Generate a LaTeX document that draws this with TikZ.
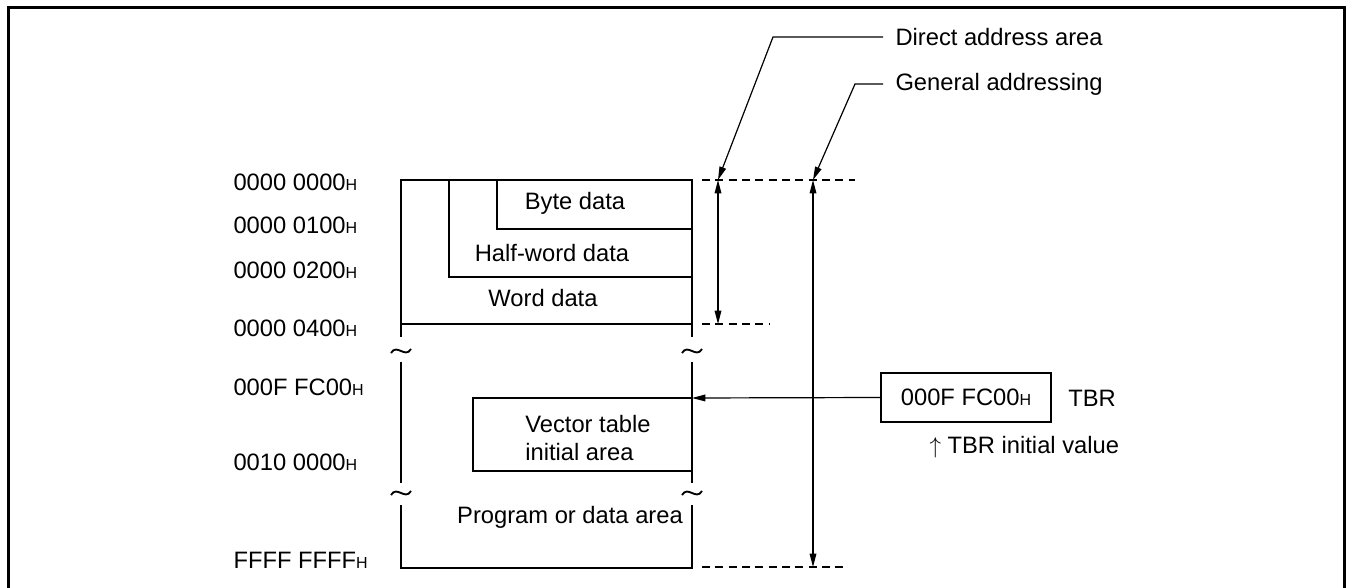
\documentclass[tikz,border=0pt]{standalone}
\usepackage{fontspec}
\setmainfont{Liberation Sans}
\usetikzlibrary{arrows.meta}
\newcommand{\hsuf}{{\fontsize{12}{13}\selectfont H}}
\tikzset{every picture/.style={line width=0.75pt}}
\tikzset{
	memline/.style={line width=2pt},
	thinline/.style={line width=0.9pt},
	guideline/.style={line width=0.9pt, dash pattern=on 6pt off 4pt},
	tip/.style={-{Triangle[length=10pt,width=5pt]}},
	bothtips/.style={{Triangle[length=10pt,width=5pt]}-{Triangle[length=10pt,width=5pt]}},
	txt/.style={font=\fontsize{17.8}{21}\selectfont, inner sep=0pt}}

\begin{document}
\begin{tikzpicture}[x=0.75pt,y=0.75pt,yscale=-1,xscale=1]
	\useasboundingbox (0,0) rectangle (1346,588);

	%Shape: Frame
	\draw [line width=1.6pt] (8.5,588) -- (8.5,7.5) -- (1344.5,7.5) -- (1344.5,588) ;

	%Shape: Memory map
	\draw [memline] (401,337) -- (401,180) -- (692,180) -- (692,337) ;
	\draw [memline] (401,362) -- (401,483) ;
	\draw [memline] (692,362) -- (692,483) ;
	\draw [memline] (401,505) -- (401,568) -- (692,568) -- (692,505) ;
	%Shape: Inner areas
	\draw [thinline] (497,180) -- (497,229) -- (692,229) ;
	\draw [thinline] (449,180) -- (449,277) -- (692,277) ;
	\draw [thinline] (401,324) -- (692,324) ;
	\draw [thinline] (692,398) -- (473,398) -- (473,471) -- (692,471) ;
	%Shape: Break marks
	\foreach \x in {401,692}
		\foreach \y in {351,493}
			\draw [line width=1.4pt] (\x-10,\y+2) .. controls (\x-4,\y-8) and (\x+4,\y+8) .. (\x+10,\y-2) ;

	%Dashed guides
	\draw [guideline] (702,180) -- (855,180) ;
	\draw [guideline] (702,324) -- (770,324) ;
	\draw [guideline] (702,567) -- (845,567) ;

	% Coordinates
	\coordinate (datop) at (718,180) ;
	\coordinate (dabot) at (718,324) ;
	\coordinate (gatop) at (813,180) ;
	\coordinate (gabot) at (813,567) ;
	\coordinate (dabend) at (773,37) ;
	\coordinate (gabend) at (855,84) ;
	\coordinate (tbrtarget) at (692,398) ;

	% Text Node
	\node [txt, anchor=west] (da) at (895,37) {Direct address area};
	% Text Node
	\node [txt, anchor=west] (ga) at (895,84) {General addressing};
	% Text Node
	\node [txt] (byte) at (575,203) {Byte data};
	% Text Node
	\node [txt] (half) at (552,253) {Half-word data};
	% Text Node
	\node [txt] (word) at (543,298) {Word data};
	% Text Node
	\node [txt, align=left] (vect) at (588,438) {Vector table\\initial area};
	% Text Node
	\node [txt] (prog) at (570,517) {Program or data area};
	% Text Node
	\node [txt, anchor=west] (a0) at (233,182) {0000 0000\hsuf};
	% Text Node
	\node [txt, anchor=west] (a1) at (233,225) {0000 0100\hsuf};
	% Text Node
	\node [txt, anchor=west] (a2) at (233,270) {0000 0200\hsuf};
	% Text Node
	\node [txt, anchor=west] (a4) at (233,328) {0000 0400\hsuf};
	% Text Node
	\node [txt, anchor=west] (afc) at (233,387) {000F FC00\hsuf};
	% Text Node
	\node [txt, anchor=west] (a10) at (233,462) {0010 0000\hsuf};
	% Text Node
	\node [txt, anchor=west] (aff) at (233,560) {FFFF FFFF\hsuf};
	% Text Node
	\node [txt, draw, thinline, minimum width=127.5pt, minimum height=36.75pt] (tbrbox) at (966,397.5) {000F FC00\hsuf};
	% Text Node
	\node [txt] (tbr) at (1092,398) {TBR};
	% Text Node
	\node [txt, anchor=west] (tbrinit) at (929,447) {$\uparrow$ TBR initial value};

	%Straight Lines
	\draw [thinline, bothtips] (datop) -- (dabot) ;
	\draw [thinline, bothtips] (gatop) -- (gabot) ;
	\draw [thinline, tip] ([xshift=-9pt]da.west) -- (dabend) -- (datop) ;
	\draw [thinline, tip] ([xshift=-9pt]ga.west) -- (gabend) -- (gatop) ;
	\draw [thinline, tip] (tbrbox.west) -- (tbrtarget) ;

\end{tikzpicture}
\end{document}
